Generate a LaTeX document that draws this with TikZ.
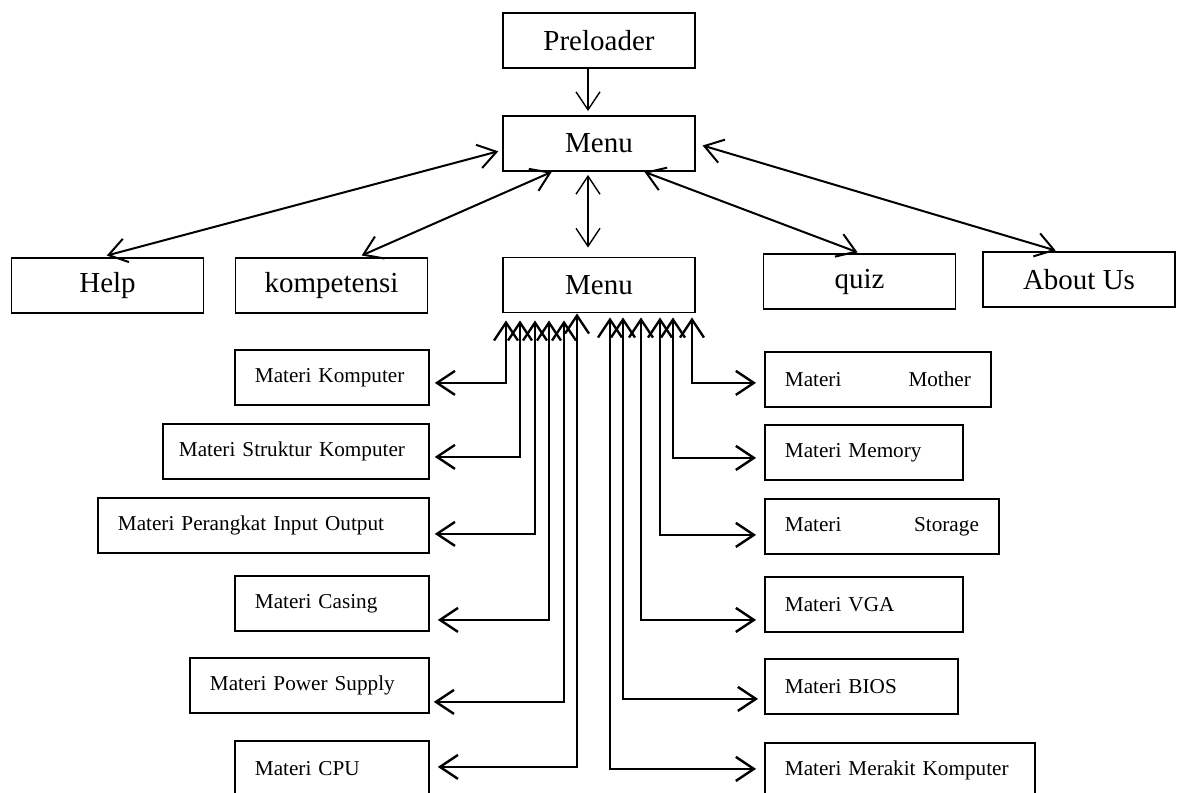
\documentclass[tikz,border=0pt]{standalone}
\usepackage{fontspec}
\setmainfont{Liberation Serif}
\usetikzlibrary{arrows.meta}
\tikzset{
    bigbox/.style={rectangle, draw=black, line width=0.9pt, minimum width=96pt, minimum height=27.5pt, inner sep=0pt, font=\fontsize{14.5}{17}\selectfont},
    matbox/.style={rectangle, draw=black, line width=0.9pt, anchor=north west, minimum height=27.5pt, inner xsep=10pt, align=left, font=\fontsize{10.6}{12.7}\selectfont},
    toplink/.style={<->, >={Straight Barb[length=9pt,width=12pt]}, line width=1pt},
    sublink/.style={<->, >={Straight Barb[length=9pt,width=12pt]}, line width=1.2pt}
}

\begin{document}
\begin{tikzpicture}[x=0.5pt,y=-0.5pt]
    \useasboundingbox (0,0) rectangle (1181,792);
    % main row
    \node[bigbox] (preloader) at (599,40.5) {Preloader};
    \node[bigbox] (menua) at (599,143.5) {Menu};
    \node[bigbox] (help) at (107.5,285.5) {Help};
    \node[bigbox] (kompetensi) at (331.5,285.5) {kompetensi};
    \node[bigbox] (menub) at (599,285) {Menu};
    \node[bigbox] (quiz) at (859.5,281.5) {quiz};
    \node[bigbox] (about) at (1079,279.5) {About Us};
    % materi, left
    \node[matbox, text width=77pt] (mkomputer) at (234,349) {Materi Komputer};
    \node[matbox, text width=117pt, inner xsep=8pt] (mstruktur) at (162,423) {Materi Struktur Komputer};
    \node[matbox, text width=145.5pt] (mperangkat) at (97,497) {Materi Perangkat Input Output};
    \node[matbox, text width=77pt] (mcasing) at (234,575) {Materi Casing};
    \node[matbox, text width=99.5pt] (mpower) at (189,657) {Materi Power Supply};
    \node[matbox, text width=77pt] (mcpu) at (234,740) {Materi CPU};
    % materi, right
    \node[matbox, text width=93pt] (mmother) at (764,351) {Materi \hfill Mother};
    \node[matbox, text width=79pt] (mmemory) at (764,424) {Materi Memory};
    \node[matbox, text width=97pt] (mstorage) at (764,498) {Materi \hfill Storage};
    \node[matbox, text width=79pt] (mvga) at (764,576) {Materi VGA};
    \node[matbox, text width=76.5pt] (mbios) at (764,658) {Materi BIOS};
    \node[matbox, text width=115pt] (mmerakit) at (764,742) {Materi Merakit Komputer};
    % top links
    \draw[->, >={Straight Barb[length=9pt,width=12pt]}, line width=0.7pt, shorten >=2pt] ([xshift=-5.5pt]preloader.south) -- ([xshift=-5.5pt]menua.north);
    \draw[toplink, shorten <=2pt, shorten >=3pt] (menua.184) -- (help.103);
    \draw[toplink, shorten >=2pt] (menua.211) -- (kompetensi.47);
    \draw[<->, >={Straight Barb[length=9pt,width=12pt]}, line width=0.7pt, shorten <=1.5pt, shorten >=4.5pt] ([xshift=-5.5pt]menua.south) -- ([xshift=-5.5pt]menub.north);
    \draw[toplink, shorten >=1pt] (menua.328) -- (quiz.north);
    \draw[toplink, shorten <=3.5pt, shorten >=1pt] (menua.east) -- (about.127);
    % links to materi, left
    \draw[sublink, shorten >=2.5pt] ([xshift=-46.5pt,yshift=-3.5pt]menub.south) |- ([yshift=-2.75pt]mkomputer.east);
    \draw[sublink, shorten >=2.5pt] ([xshift=-39.5pt,yshift=-3.5pt]menub.south) |- ([yshift=-2.75pt]mstruktur.east);
    \draw[sublink, shorten >=2.5pt] ([xshift=-32pt,yshift=-3.5pt]menub.south) |- ([yshift=-4.25pt]mperangkat.east);
    \draw[sublink, shorten >=4pt] ([xshift=-25pt,yshift=-3.5pt]menub.south) |- ([yshift=-8.25pt]mcasing.east);
    \draw[sublink, shorten >=2pt] ([xshift=-17.5pt,yshift=-3.5pt]menub.south) |- ([yshift=-8.25pt]mpower.east);
    \draw[sublink, shorten >=4pt] ([xshift=-11pt]menub.south) |- ([yshift=0.75pt]mcpu.east);
    % links to materi, right
    \draw[sublink, shorten >=4pt] ([xshift=46.5pt,yshift=-2pt]menub.south) |- ([yshift=-1.75pt]mmother.west);
    \draw[sublink, shorten >=4pt] ([xshift=37pt,yshift=-2pt]menub.south) |- ([yshift=-2.75pt]mmemory.west);
    \draw[sublink, shorten >=4pt] ([xshift=30.5pt,yshift=-2pt]menub.south) |- ([yshift=-4.25pt]mstorage.west);
    \draw[sublink, shorten >=4pt] ([xshift=21pt,yshift=-2pt]menub.south) |- ([yshift=-7.75pt]mvga.west);
    \draw[sublink, shorten >=3pt] ([xshift=12pt,yshift=-2pt]menub.south) |- ([yshift=-6.25pt]mbios.west);
    \draw[sublink, shorten >=4pt] ([xshift=5.5pt,yshift=-2pt]menub.south) |- ([yshift=0.75pt]mmerakit.west);
\end{tikzpicture}
\end{document}
